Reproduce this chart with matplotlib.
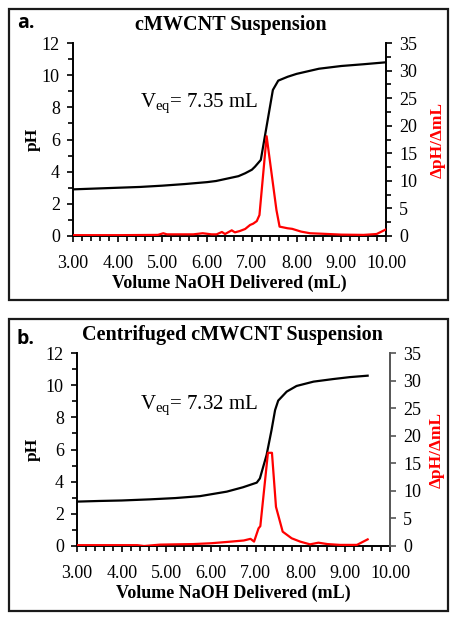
import matplotlib
matplotlib.use("Agg")
import matplotlib.pyplot as plt
from matplotlib.patches import Rectangle
from matplotlib.ticker import MultipleLocator, FormatStrFormatter

plt.rcParams['font.family'] = ['Liberation Serif', 'DejaVu Serif']
plt.rcParams['mathtext.fontset'] = 'custom'
plt.rcParams['mathtext.rm'] = 'Liberation Serif'
plt.rcParams['mathtext.it'] = 'Liberation Serif:italic'
plt.rcParams['mathtext.bf'] = 'Liberation Serif:bold'

# ---------------- data ----------------
titles = ["cMWCNT Suspension", "Centrifuged cMWCNT Suspension"]
panel_tags = ["a.", "b."]
veq_labels = [r"V$_{\mathrm{eq}}$= 7.35 mL", r"V$_{\mathrm{eq}}$= 7.32 mL"]

vol_a = [3.0, 3.5, 4.0, 4.5, 5.0, 5.5, 6.0, 6.2, 6.5, 6.7, 6.85, 7.0, 7.07, 7.2,
         7.47, 7.59, 7.8, 8.0, 8.5, 9.0, 9.5, 10.0]
ph_a = [2.9, 2.95, 3.0, 3.05, 3.13, 3.23, 3.35, 3.42, 3.6, 3.72, 3.9, 4.12, 4.31, 4.73,
        9.08, 9.66, 9.9, 10.08, 10.4, 10.57, 10.68, 10.8]

dvol_a = [3.0, 4.0, 4.9, 5.02, 5.1, 5.5, 5.69, 5.9, 6.1, 6.21, 6.33, 6.40, 6.55, 6.62,
          6.73, 6.85, 6.96, 7.03, 7.11, 7.17, 7.33, 7.55, 7.62, 7.8, 7.9, 8.1, 8.3,
          8.6, 9.0, 9.5, 9.79, 10.0]
dph_a = [0.15, 0.15, 0.2, 0.5, 0.3, 0.3, 0.3, 0.5, 0.3, 0.3, 0.73, 0.36, 1.03, 0.66,
         0.9, 1.27, 2.0, 2.24, 2.7, 3.8, 18.1, 4.7, 1.7, 1.4, 1.3, 0.8, 0.5,
         0.4, 0.25, 0.2, 0.36, 1.2]

vol_b = [3.0, 3.5, 4.0, 4.63, 5.2, 5.75, 6.35, 6.71, 7.02, 7.09, 7.24, 7.35, 7.43, 7.5,
         7.69, 7.91, 8.29, 8.73, 9.1, 9.5]
ph_b = [2.76, 2.8, 2.83, 2.9, 2.98, 3.1, 3.38, 3.65, 3.94, 4.2, 5.66, 7.2, 8.45, 9.04,
        9.6, 9.95, 10.22, 10.38, 10.5, 10.59]

dvol_b = [3.0, 3.5, 4.0, 4.35, 4.5, 4.86, 5.2, 5.6, 6.0, 6.45, 6.73, 6.88, 6.96, 7.06,
          7.1, 7.27, 7.36, 7.45, 7.6, 7.8, 7.99, 8.21, 8.4, 8.6, 8.88, 9.26, 9.5]
dph_b = [0.15, 0.15, 0.15, 0.15, 0.0, 0.25, 0.3, 0.35, 0.5, 0.8, 1.0, 1.3, 0.8, 3.2,
         3.6, 16.9, 16.9, 7.1, 2.6, 1.4, 0.8, 0.3, 0.6, 0.35, 0.2, 0.2, 1.2]

x_label = "Volume NaOH Delivered (mL)"
y_label = "pH"
y2_label = "\u0394pH/\u0394mL"

# ---------------- layout (pixels in a 458x622 image) ----------------
W, H = 458, 622
fig = plt.figure(figsize=(W / 100, H / 100), dpi=100)


def fx(px):
    return px / W


def fy(py):
    return 1 - py / H


panels = [
    dict(frame=(9, 9, 448, 300), ax=(73, 43, 386, 236), vol=vol_a, ph=ph_a,
         dvol=dvol_a, dph=dph_a, minor2=True, rcol='black',
         tag_xy=(26, 23), title_xy=(231, 25), veq_xy=(140, 103),
         ylab_x=33, y2lab_x=438, xlab_y=283),
    dict(frame=(9, 319, 448, 611), ax=(77, 353, 390, 546), vol=vol_b, ph=ph_b,
         dvol=dvol_b, dph=dph_b, minor2=False, rcol='#555555',
         tag_xy=(26, 339), title_xy=(232, 335), veq_xy=(140, 405),
         ylab_x=33, y2lab_x=437, xlab_y=593),
]

for i, p in enumerate(panels):
    x0, y0, x1, y1 = p['frame']
    fig.add_artist(Rectangle((fx(x0), fy(y1)), fx(x1) - fx(x0), fy(y0) - fy(y1),
                             transform=fig.transFigure, fill=False,
                             lw=1.6, ec='#1a1a1a'))
    a0, b0, a1, b1 = p['ax']
    ax = fig.add_axes([fx(a0), fy(b1), fx(a1) - fx(a0), fy(b0) - fy(b1)])
    ax.patch.set_alpha(0)
    ax.plot(p['vol'], p['ph'], color='black', lw=1.6, zorder=3)
    ax.set_xlim(3, 10)
    ax.set_ylim(0, 12)
    ax.xaxis.set_major_locator(MultipleLocator(1))
    ax.xaxis.set_minor_locator(MultipleLocator(0.2))
    ax.xaxis.set_major_formatter(FormatStrFormatter('%.2f'))
    ax.yaxis.set_major_locator(MultipleLocator(2))
    ax.yaxis.set_minor_locator(MultipleLocator(1))
    for s in ['top', 'right']:
        ax.spines[s].set_visible(False)
    for s in ['left', 'bottom']:
        ax.spines[s].set_linewidth(1.4)
    ax.tick_params(axis='x', which='both', direction='out', width=1.2,
                   labelsize=13, pad=9)
    ax.tick_params(axis='y', which='both', direction='out', width=1.2,
                   labelsize=13, pad=5)
    ax.tick_params(which='major', length=4.5)
    ax.tick_params(which='minor', length=3.5)

    ax2 = ax.twinx()
    ax2.plot(p['dvol'], p['dph'], color='#ff0000', lw=1.6, zorder=4)
    ax2.set_ylim(0, 35)
    ax2.yaxis.set_major_locator(MultipleLocator(5))
    if p['minor2']:
        ax2.yaxis.set_minor_locator(MultipleLocator(2.5))
    for s in ['top', 'left', 'bottom']:
        ax2.spines[s].set_visible(False)
    ax2.spines['right'].set_linewidth(1.4)
    ax2.spines['right'].set_color(p['rcol'])
    ax2.tick_params(axis='y', which='both', direction='out', width=1.2,
                    labelsize=13, pad=5, color=p['rcol'])
    ax2.tick_params(which='major', length=4.5)
    ax2.tick_params(which='minor', length=3.5)

    fig.text(fx(p['tag_xy'][0]), fy(p['tag_xy'][1]), panel_tags[i],
             family=['Open Sans', 'DejaVu Sans'], weight='bold', fontsize=14,
             ha='center', va='center')
    fig.text(fx(p['title_xy'][0]), fy(p['title_xy'][1]), titles[i],
             weight='bold', fontsize=14.5, ha='center', va='center')
    fig.text(fx(p['veq_xy'][0]), fy(p['veq_xy'][1]), veq_labels[i],
             fontsize=15, ha='left', va='center')
    fig.text(fx(p['ylab_x']), fy((b0 + b1) / 2), y_label, weight='bold',
             fontsize=12.5, rotation=90, ha='center', va='center')
    fig.text(fx(p['y2lab_x']), fy((b0 + b1) / 2), y2_label, weight='bold',
             fontsize=12.5, rotation=90, ha='center', va='center', color='#ff0000')
    fig.text(fx((a0 + a1) / 2), fy(p['xlab_y']), x_label, weight='bold',
             fontsize=13, ha='center', va='center')

fig.savefig("out.png", dpi=100)
